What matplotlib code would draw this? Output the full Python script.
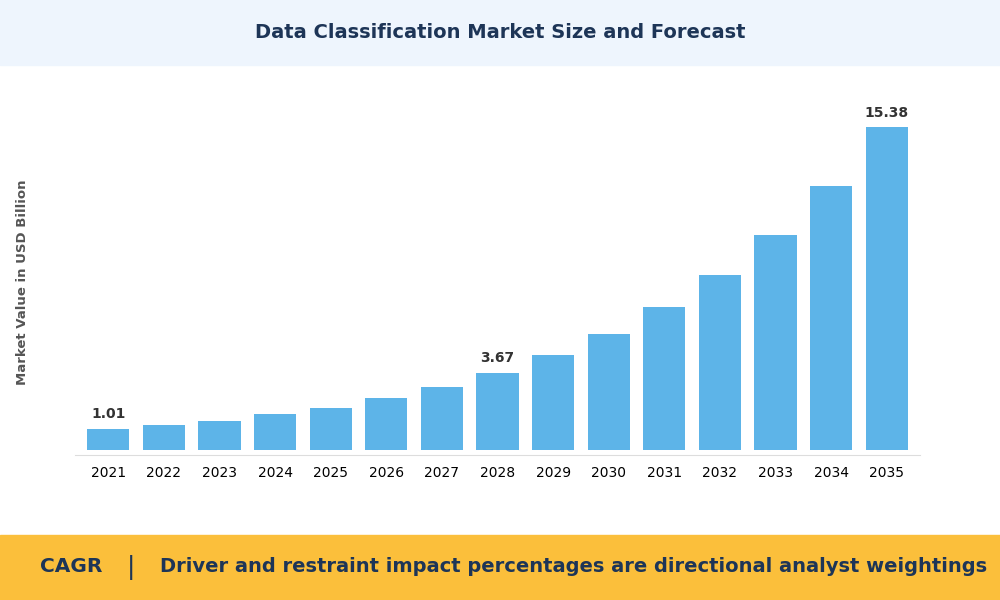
import matplotlib.pyplot as plt
from matplotlib.patches import Rectangle

years = ['2021', '2022', '2023', '2024', '2025', '2026', '2027', '2028',
         '2029', '2030', '2031', '2032', '2033', '2034', '2035']
values = [1.01, 1.20, 1.39, 1.68, 1.97, 2.45, 2.98, 3.67,
          4.52, 5.53, 6.78, 8.32, 10.24, 12.55, 15.38]
labelled = {'2021', '2028', '2035'}

TITLE = 'Data Classification Market Size and Forecast'
FOOTER = 'Driver and restraint impact percentages are directional analyst weightings'


def make_fig():
    fig = plt.figure(figsize=(10, 6), dpi=100)
    fig.patch.set_facecolor('white')

    # header and footer bands
    fig.patches.append(Rectangle((0, 1-65/600), 1, 65/600,
                                 transform=fig.transFigure, color='#eef5fd', zorder=0))
    fig.patches.append(Rectangle((0, 0), 1, 65/600,
                                 transform=fig.transFigure, color='#fbbf3b', zorder=0))
    fig.text(0.5, 1-33/600, TITLE, ha='center', va='center',
             fontsize=14, fontweight='bold', color='#1d3557')
    fig.text(0.04, 33/600, 'CAGR', ha='left', va='center',
             fontsize=14.5, fontweight='bold', color='#1d3557')
    fig.text(0.131, 33/600, '|', ha='center', va='center',
             fontsize=18, color='#1d3557')
    fig.text(0.16, 33/600, FOOTER, ha='left', va='center',
             fontsize=14, fontweight='bold', color='#1d3557')

    ax = fig.add_axes([0.075, 1-455/600, 0.845, 360/600])
    x = range(len(years))
    ax.bar(x, values, width=0.76, color='#5db4e8', zorder=2)
    for i, (yr, v) in enumerate(zip(years, values)):
        if yr in labelled:
            ax.text(i, v + 0.35, '{:.2f}'.format(v), ha='center', va='bottom',
                    fontsize=10, fontweight='bold', color='#333333')

    ax.set_xlim(-0.6, len(years) - 0.4)
    ax.set_ylim(-0.25, 16.9)
    ax.set_xticks(list(x))
    ax.set_xticklabels(years)
    for lab in ax.get_xticklabels():
        lab.set_fontweight('bold')
        lab.set_fontsize(9.5)
        lab.set_color('#555555')
    ax.tick_params(axis='x', length=0, pad=8)
    ax.set_yticks([])
    for s in ['top', 'right', 'left']:
        ax.spines[s].set_visible(False)
    ax.spines['bottom'].set_color('#dddddd')
    ax.spines['bottom'].set_position(('data', -0.25))
    ax.set_ylabel('Market Value in USD Billion', fontsize=9.5,
                  fontweight='bold', color='#555555')
    ax.yaxis.set_label_coords(-0.055, 0.48)

    plt.savefig('out.png')
    plt.close()


if (__name__ == "__main__"):
    make_fig()
